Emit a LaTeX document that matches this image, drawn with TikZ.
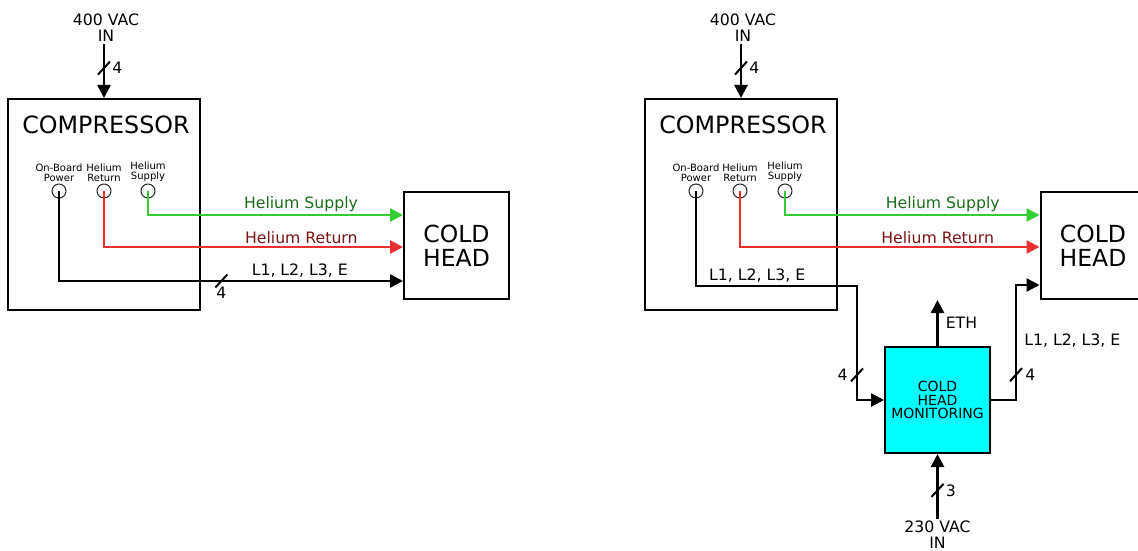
\documentclass[tikz,border=0pt]{standalone}
\usepackage{fontspec}
\setmainfont{DejaVu Sans}
\usepackage{xcolor}
\usepackage{tikz}
\usetikzlibrary{calc,arrows.meta,positioning}
\definecolor{heline}{HTML}{33CC33}
\definecolor{hetxt}{HTML}{1E6B1E}
\definecolor{retline}{HTML}{E83030}
\definecolor{rettxt}{HTML}{7A1414}
\definecolor{monfill}{HTML}{00FFFF}
\tikzset{
  ar/.style={-{Triangle[length=13pt,width=13pt]},line width=2.6pt},
  unit/.style={draw,line width=2pt,minimum width=192pt,minimum height=211pt,inner sep=0pt},
  head/.style={draw,line width=2pt,minimum width=105pt,minimum height=107pt,align=center,font=\fontsize{23.5}{24}\selectfont},
  monbox/.style={draw,line width=2pt,fill=monfill,minimum width=105pt,minimum height=106pt,align=center,font=\fontsize{14}{13.5}\selectfont},
  port/.style={circle,draw=black!85,line width=1pt,minimum size=14pt,inner sep=0pt},
  plab/.style={align=center,inner sep=1pt,font=\fontsize{10}{10}\selectfont},
  lab/.style={align=center,inner sep=2pt,font=\fontsize{15.7}{16}\selectfont},
  big/.style={font=\fontsize{23.8}{24}\selectfont},
  pics/busmark/.style={code={\draw[-,line width=2pt,black] (-6pt,-6.5pt) -- (6pt,6.5pt);}}
}
\begin{document}
\begin{tikzpicture}[x=1pt,y=-1pt]
\useasboundingbox (0,0) rectangle (1138,551);
% left: compressor straight to cold head
\node[unit] (cmp1) at (104,204.5) {};
\node[big] (cmpt1) at (106,125) {COMPRESSOR};
\node[lab] (ac1) at (106,27.5) {400 VAC\\IN};
\draw[ar] (ac1.south -| cmp1.north) -- pic[pos=0.45]{busmark} node[pos=0.45,anchor=west,xshift=7pt,lab,inner sep=0pt]{4} (cmp1.north);
\node[port] (pw1) at (59,191) {};
\node[port] (hr1) at (104,191) {};
\node[port] (hs1) at (148,191) {};
\node[plab,above=1pt of pw1] {On-Board\\Power};
\node[plab,above=1pt of hr1] {Helium\\Return};
\node[plab,above=1pt of hs1] {Helium\\Supply};
\node[head] (ch1) at (456.5,245.5) {COLD\\HEAD};
\draw[ar,heline] (hs1.center) |- ([yshift=30.5pt]ch1.west) node[pos=0.8,above,lab,text=hetxt]{Helium Supply};
\draw[ar,retline] (hr1.center) |- ([yshift=-1.5pt]ch1.west) node[pos=0.83,above,lab,text=rettxt]{Helium Return};
\draw[ar] (pw1.center) |- ([yshift=-35.5pt]ch1.west) node[pos=0.85,above,lab]{L1, L2, L3, E}
  pic[pos=0.736]{busmark} node[pos=0.736,below=5pt,lab,inner sep=0pt]{4};
% right: power routed through the monitoring unit
\node[unit] (cmp2) at (741,204.5) {};
\node[big] (cmpt2) at (743,125) {COMPRESSOR};
\node[lab] (ac2) at (743,27.5) {400 VAC\\IN};
\draw[ar] (ac2.south -| cmp2.north) -- pic[pos=0.45]{busmark} node[pos=0.45,anchor=west,xshift=7pt,lab,inner sep=0pt]{4} (cmp2.north);
\node[port] (pw2) at (696,191) {};
\node[port] (hr2) at (740,191) {};
\node[port] (hs2) at (785,191) {};
\node[plab,above=1pt of pw2] {On-Board\\Power};
\node[plab,above=1pt of hr2] {Helium\\Return};
\node[plab,above=1pt of hs2] {Helium\\Supply};
\node[head] (ch2) at (1093,245.5) {COLD\\HEAD};
\draw[ar,heline] (hs2.center) |- ([yshift=30.5pt]ch2.west) node[pos=0.81,above,lab,text=hetxt]{Helium Supply};
\draw[ar,retline] (hr2.center) |- ([yshift=-1.5pt]ch2.west) node[pos=0.83,above,lab,text=rettxt]{Helium Return};
\node[monbox] (chm) at (937.5,400) {COLD\\HEAD\\MONITORING};
\coordinate (bend1) at (857,286);
\coordinate (bend2) at (1016,400);
\coordinate (eth) at (937.5,300);
\draw[ar] (pw2.center) |- (bend1) node[pos=0.69,above,lab]{L1, L2, L3, E}
  |- (chm.west) pic[pos=0.39]{busmark} node[pos=0.39,anchor=east,xshift=-8pt,lab,inner sep=0pt]{4};
\draw[ar] (chm.east) -- (bend2) |- ([yshift=-39.5pt]ch2.west)
  pic[pos=0.11]{busmark} node[pos=0.11,anchor=west,xshift=8pt,lab,inner sep=0pt]{4}
  node[pos=0.26,anchor=west,xshift=5pt,lab]{L1, L2, L3, E};
\draw[ar] (chm.north) -- (eth) node[pos=0.5,anchor=west,xshift=6pt,lab,inner sep=1pt]{ETH};
\node[lab] (ac3) at (937.5,535) {230 VAC\\IN};
\draw[ar] (ac3.north) -- pic[pos=0.44]{busmark} node[pos=0.44,anchor=west,xshift=7pt,lab,inner sep=0pt]{3} (chm.south);
\end{tikzpicture}
\end{document}
